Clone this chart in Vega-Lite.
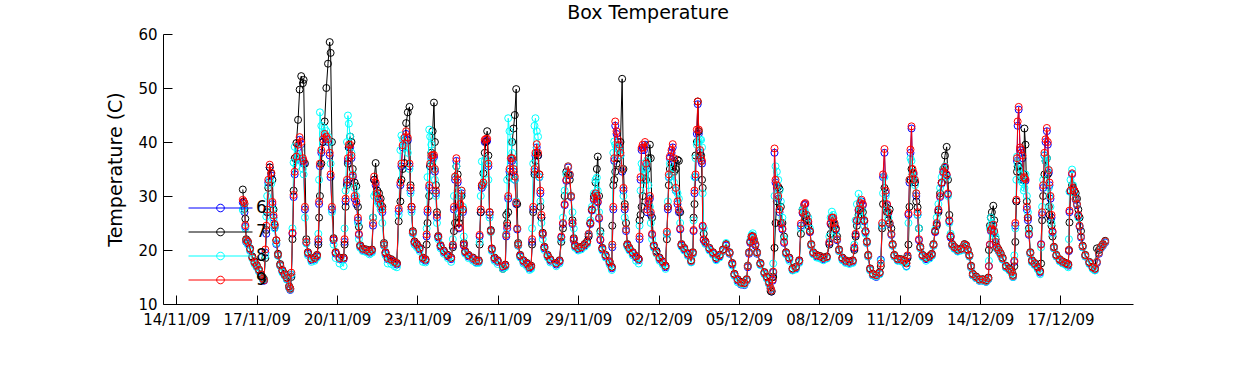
{
"$schema": "https://vega.github.io/schema/vega-lite/v6.json",
"width": 970, "height": 270,
"autosize": "none",
"padding": {"left": 163, "top": 34, "right": 117, "bottom": 61},
"background": "white",
"config": {"view": {"stroke": null}},
"title": {"text": "Box Temperature", "font": "DejaVu Sans", "fontSize": 19, "fontWeight": "normal", "color": "black", "anchor": "middle", "frame": "group", "baseline": "alphabetic", "offset": 8, "dy": 19},
"data": {"values": [
{"t":"2009-11-16T11:30","6":28.8,"7":31.2,"8":27.4,"9":29.3},
{"t":"2009-11-16T12:15","6":28.6,"7":29.0,"8":27.8,"9":29.0},
{"t":"2009-11-16T13:00","6":27.0,"7":27.6,"8":28.5,"9":28.6},
{"t":"2009-11-16T13:45","6":24.3,"7":25.8,"8":24.0,"9":24.6},
{"t":"2009-11-16T14:30","6":21.5,"7":22.0,"8":21.6,"9":21.8},
{"t":"2009-11-16T16:00","6":21.2,"7":21.6,"8":21.0,"9":21.5},
{"t":"2009-11-16T18:00","6":20.0,"7":20.3,"8":19.8,"9":20.2},
{"t":"2009-11-16T20:00","6":18.6,"7":18.8,"8":18.4,"9":18.6},
{"t":"2009-11-16T22:00","6":17.6,"7":17.9,"8":17.4,"9":17.7},
{"t":"2009-11-17T00:00","6":16.9,"7":17.2,"8":16.8,"9":17.1},
{"t":"2009-11-17T02:00","6":16.1,"7":16.4,"8":16.0,"9":16.3},
{"t":"2009-11-17T04:00","6":15.3,"7":15.5,"8":15.1,"9":15.4},
{"t":"2009-11-17T05:30","6":14.6,"7":14.9,"8":14.5,"9":14.7},
{"t":"2009-11-17T06:30","6":14.3,"7":14.6,"8":14.5,"9":14.4},
{"t":"2009-11-17T07:40","6":19.5,"7":18.5,"8":19.0,"9":20.1},
{"t":"2009-11-17T08:30","6":23.0,"7":23.7,"8":26.2,"9":24.5},
{"t":"2009-11-17T09:20","6":27.0,"7":27.0,"8":30.0,"9":27.5},
{"t":"2009-11-17T10:20","6":32.5,"7":31.5,"8":32.0,"9":33.0},
{"t":"2009-11-17T11:35","6":35.3,"7":35.3,"8":33.0,"9":35.8},
{"t":"2009-11-17T13:00","6":33.8,"7":34.2,"8":32.3,"9":34.3},
{"t":"2009-11-17T14:00","6":28.5,"7":33.0,"8":27.5,"9":28.9},
{"t":"2009-11-17T15:00","6":26.0,"7":27.5,"8":25.5,"9":26.4},
{"t":"2009-11-17T16:00","6":24.2,"7":24.6,"8":24.0,"9":24.8},
{"t":"2009-11-17T17:30","6":21.1,"7":21.8,"8":21.3,"9":21.8},
{"t":"2009-11-17T19:00","6":19.0,"7":19.3,"8":18.9,"9":19.1},
{"t":"2009-11-17T21:00","6":17.1,"7":17.4,"8":17.0,"9":17.2},
{"t":"2009-11-17T23:00","6":16.0,"7":16.3,"8":15.8,"9":16.2},
{"t":"2009-11-18T01:00","6":15.3,"7":15.6,"8":15.2,"9":15.4},
{"t":"2009-11-18T03:00","6":14.6,"7":14.9,"8":14.5,"9":14.8},
{"t":"2009-11-18T05:00","6":13.0,"7":13.3,"8":13.0,"9":13.2},
{"t":"2009-11-18T06:00","6":12.6,"7":12.9,"8":12.7,"9":12.8},
{"t":"2009-11-18T07:00","6":15.4,"7":15.0,"8":15.5,"9":15.8},
{"t":"2009-11-18T08:00","6":23.0,"7":22.0,"8":24.0,"9":23.2},
{"t":"2009-11-18T09:00","6":29.8,"7":31.0,"8":36.2,"9":30.2},
{"t":"2009-11-18T10:00","6":34.0,"7":37.0,"8":39.1,"9":34.5},
{"t":"2009-11-18T11:30","6":36.8,"7":39.8,"8":35.5,"9":37.3},
{"t":"2009-11-18T13:00","6":39.0,"7":44.1,"8":37.0,"9":39.5},
{"t":"2009-11-18T14:25","6":40.4,"7":49.7,"8":38.5,"9":40.9},
{"t":"2009-11-18T15:50","6":39.6,"7":52.2,"8":37.0,"9":40.0},
{"t":"2009-11-18T17:20","6":36.6,"7":50.9,"8":35.0,"9":37.0},
{"t":"2009-11-18T18:00","6":36.0,"7":51.5,"8":34.0,"9":36.5},
{"t":"2009-11-18T19:10","6":27.5,"7":36.0,"8":26.0,"9":28.0},
{"t":"2009-11-18T20:25","6":21.3,"7":22.0,"8":21.2,"9":21.5},
{"t":"2009-11-18T21:50","6":19.3,"7":19.6,"8":19.0,"9":19.5},
{"t":"2009-11-19T01:00","6":18.1,"7":18.4,"8":17.8,"9":18.3},
{"t":"2009-11-19T03:50","6":18.3,"7":18.6,"8":18.0,"9":18.5},
{"t":"2009-11-19T06:00","6":18.8,"7":19.1,"8":18.6,"9":19.0},
{"t":"2009-11-19T07:10","6":21.5,"7":21.0,"8":23.0,"9":22.0},
{"t":"2009-11-19T07:50","6":28.5,"7":26.0,"8":33.0,"9":29.0},
{"t":"2009-11-19T08:35","6":35.5,"7":30.0,"8":45.5,"9":36.0},
{"t":"2009-11-19T09:50","6":38.0,"7":36.0,"8":43.0,"9":38.5},
{"t":"2009-11-19T11:20","6":40.0,"7":40.0,"8":41.5,"9":40.5},
{"t":"2009-11-19T12:50","6":41.0,"7":43.8,"8":42.5,"9":41.5},
{"t":"2009-11-19T14:20","6":40.5,"7":50.0,"8":42.0,"9":41.0},
{"t":"2009-11-19T15:50","6":40.0,"7":54.5,"8":41.0,"9":40.5},
{"t":"2009-11-19T17:20","6":37.5,"7":58.5,"8":40.0,"9":38.0},
{"t":"2009-11-19T18:10","6":33.5,"7":56.5,"8":36.0,"9":34.0},
{"t":"2009-11-19T19:20","6":27.5,"7":40.0,"8":27.0,"9":28.0},
{"t":"2009-11-19T20:50","6":21.8,"7":22.2,"8":21.0,"9":22.0},
{"t":"2009-11-19T22:40","6":19.3,"7":19.6,"8":18.5,"9":19.5},
{"t":"2009-11-20T02:10","6":18.3,"7":18.6,"8":17.5,"9":18.5},
{"t":"2009-11-20T05:50","6":18.3,"7":18.6,"8":17.0,"9":18.5},
{"t":"2009-11-20T06:40","6":21.5,"7":21.0,"8":24.0,"9":22.0},
{"t":"2009-11-20T07:35","6":29.0,"7":28.0,"8":31.0,"9":29.5},
{"t":"2009-11-20T08:50","6":32.5,"7":32.0,"8":40.0,"9":33.0},
{"t":"2009-11-20T09:40","6":36.5,"7":36.0,"8":44.9,"9":37.0},
{"t":"2009-11-20T10:30","6":39.0,"7":39.0,"8":43.4,"9":39.5},
{"t":"2009-11-20T11:40","6":39.0,"7":41.0,"8":41.0,"9":39.5},
{"t":"2009-11-20T12:50","6":37.0,"7":40.0,"8":38.0,"9":37.5},
{"t":"2009-11-20T14:00","6":33.5,"7":35.0,"8":34.0,"9":33.8},
{"t":"2009-11-20T15:40","6":29.5,"7":32.5,"8":31.5,"9":30.0},
{"t":"2009-11-20T17:10","6":28.5,"7":31.8,"8":30.0,"9":29.0},
{"t":"2009-11-20T18:40","6":25.5,"7":28.0,"8":25.0,"9":26.0},
{"t":"2009-11-20T19:30","6":22.8,"7":24.3,"8":22.0,"9":23.0},
{"t":"2009-11-20T20:40","6":20.6,"7":20.9,"8":20.4,"9":20.8},
{"t":"2009-11-20T23:00","6":20.0,"7":20.3,"8":19.8,"9":20.2},
{"t":"2009-11-21T02:10","6":19.8,"7":20.1,"8":19.6,"9":20.0},
{"t":"2009-11-21T05:00","6":19.5,"7":19.8,"8":19.2,"9":19.7},
{"t":"2009-11-21T07:10","6":19.8,"7":20.1,"8":19.5,"9":20.0},
{"t":"2009-11-21T08:10","6":24.5,"7":26.0,"8":26.0,"9":25.0},
{"t":"2009-11-21T09:10","6":33.0,"7":33.0,"8":30.0,"9":33.6},
{"t":"2009-11-21T10:30","6":32.0,"7":36.1,"8":30.5,"9":32.5},
{"t":"2009-11-21T12:00","6":30.0,"7":31.0,"8":29.0,"9":30.5},
{"t":"2009-11-21T13:30","6":29.0,"7":30.5,"8":28.5,"9":29.5},
{"t":"2009-11-21T15:00","6":28.0,"7":29.5,"8":27.5,"9":28.5},
{"t":"2009-11-21T16:30","6":27.0,"7":28.0,"8":25.0,"9":27.5},
{"t":"2009-11-21T18:00","6":20.8,"7":21.3,"8":20.8,"9":21.0},
{"t":"2009-11-21T19:20","6":19.3,"7":19.6,"8":19.0,"9":19.5},
{"t":"2009-11-21T21:20","6":18.3,"7":18.6,"8":17.5,"9":18.5},
{"t":"2009-11-22T00:30","6":18.0,"7":18.3,"8":17.4,"9":18.2},
{"t":"2009-11-22T03:30","6":17.6,"7":17.9,"8":17.0,"9":17.8},
{"t":"2009-11-22T05:30","6":17.3,"7":17.6,"8":16.8,"9":17.5},
{"t":"2009-11-22T07:10","6":27.2,"7":25.3,"8":26.5,"9":27.7},
{"t":"2009-11-22T08:40","6":32.0,"7":29.0,"8":38.5,"9":32.5},
{"t":"2009-11-22T09:35","6":35.5,"7":33.0,"8":41.2,"9":36.0},
{"t":"2009-11-22T10:45","6":39.0,"7":35.0,"8":40.5,"9":39.4},
{"t":"2009-11-22T12:20","6":40.3,"7":36.1,"8":39.5,"9":40.8},
{"t":"2009-11-22T13:50","6":41.5,"7":43.5,"8":39.0,"9":42.0},
{"t":"2009-11-22T15:20","6":40.3,"7":45.5,"8":38.0,"9":40.8},
{"t":"2009-11-22T16:50","6":35.5,"7":46.5,"8":35.0,"9":36.0},
{"t":"2009-11-22T17:45","6":31.0,"7":32.0,"8":30.5,"9":31.5},
{"t":"2009-11-22T18:40","6":27.5,"7":28.0,"8":27.0,"9":28.0},
{"t":"2009-11-22T19:50","6":23.1,"7":23.5,"8":23.0,"9":23.3},
{"t":"2009-11-22T21:20","6":21.3,"7":21.6,"8":21.0,"9":21.5},
{"t":"2009-11-22T23:25","6":20.8,"7":21.1,"8":20.5,"9":21.0},
{"t":"2009-11-23T01:50","6":20.1,"7":20.4,"8":19.8,"9":20.3},
{"t":"2009-11-23T04:50","6":18.3,"7":18.6,"8":17.8,"9":18.5},
{"t":"2009-11-23T07:10","6":18.0,"7":18.3,"8":17.7,"9":18.2},
{"t":"2009-11-23T08:10","6":22.5,"7":21.0,"8":24.0,"9":22.9},
{"t":"2009-11-23T09:00","6":27.0,"7":25.0,"8":33.5,"9":27.5},
{"t":"2009-11-23T10:30","6":31.5,"7":30.0,"8":42.3,"9":32.0},
{"t":"2009-11-23T11:20","6":35.5,"7":35.5,"8":41.0,"9":36.0},
{"t":"2009-11-23T12:25","6":37.0,"7":38.0,"8":39.5,"9":37.5},
{"t":"2009-11-23T13:35","6":37.2,"7":42.0,"8":36.5,"9":37.6},
{"t":"2009-11-23T14:45","6":37.2,"7":47.3,"8":35.0,"9":37.6},
{"t":"2009-11-23T15:35","6":34.5,"7":40.0,"8":33.0,"9":35.0},
{"t":"2009-11-23T16:30","6":30.5,"7":32.0,"8":30.0,"9":31.0},
{"t":"2009-11-23T17:25","6":26.0,"7":27.0,"8":25.0,"9":26.5},
{"t":"2009-11-23T18:35","6":22.3,"7":22.6,"8":22.0,"9":22.5},
{"t":"2009-11-23T20:40","6":20.6,"7":20.9,"8":20.3,"9":20.8},
{"t":"2009-11-23T23:35","6":19.6,"7":19.9,"8":19.3,"9":19.8},
{"t":"2009-11-24T03:10","6":18.8,"7":19.1,"8":18.5,"9":19.0},
{"t":"2009-11-24T06:10","6":18.3,"7":18.6,"8":17.8,"9":18.5},
{"t":"2009-11-24T07:40","6":20.8,"7":20.5,"8":22.0,"9":21.0},
{"t":"2009-11-24T08:40","6":27.5,"7":23.5,"8":30.0,"9":28.0},
{"t":"2009-11-24T09:40","6":33.0,"7":25.0,"8":33.5,"9":33.6},
{"t":"2009-11-24T10:50","6":36.5,"7":35.5,"8":35.5,"9":37.0},
{"t":"2009-11-24T12:00","6":32.5,"7":34.0,"8":31.0,"9":33.0},
{"t":"2009-11-24T13:10","6":24.0,"7":25.0,"8":27.0,"9":24.2},
{"t":"2009-11-24T14:20","6":28.0,"7":26.0,"8":30.0,"9":28.5},
{"t":"2009-11-24T15:30","6":30.5,"7":30.0,"8":31.0,"9":31.0},
{"t":"2009-11-24T16:40","6":27.0,"7":27.5,"8":28.0,"9":27.5},
{"t":"2009-11-24T17:30","6":20.8,"7":21.3,"8":22.5,"9":21.0},
{"t":"2009-11-24T18:45","6":19.5,"7":19.8,"8":19.3,"9":19.7},
{"t":"2009-11-24T21:40","6":18.8,"7":19.1,"8":18.5,"9":19.0},
{"t":"2009-11-25T01:40","6":18.3,"7":18.6,"8":18.0,"9":18.5},
{"t":"2009-11-25T04:35","6":17.7,"7":18.1,"8":17.6,"9":18.0},
{"t":"2009-11-25T06:50","6":17.8,"7":18.1,"8":17.6,"9":18.0},
{"t":"2009-11-25T07:40","6":22.5,"7":21.0,"8":21.5,"9":22.8},
{"t":"2009-11-25T08:40","6":27.0,"7":27.0,"8":30.0,"9":27.5},
{"t":"2009-11-25T09:40","6":31.5,"7":32.0,"8":36.4,"9":32.0},
{"t":"2009-11-25T11:00","6":32.0,"7":34.2,"8":32.0,"9":32.5},
{"t":"2009-11-25T12:15","6":40.0,"7":38.0,"8":36.5,"9":40.4},
{"t":"2009-11-25T13:20","6":40.2,"7":40.0,"8":37.0,"9":40.6},
{"t":"2009-11-25T14:25","6":40.2,"7":42.0,"8":36.0,"9":40.6},
{"t":"2009-11-25T15:30","6":35.5,"7":37.5,"8":33.0,"9":36.0},
{"t":"2009-11-25T16:35","6":26.5,"7":27.0,"8":26.0,"9":27.0},
{"t":"2009-11-25T17:40","6":23.5,"7":23.7,"8":23.3,"9":23.5},
{"t":"2009-11-25T18:35","6":20.0,"7":20.3,"8":19.8,"9":20.2},
{"t":"2009-11-25T21:00","6":18.3,"7":18.6,"8":18.0,"9":18.5},
{"t":"2009-11-25T23:50","6":17.8,"7":18.1,"8":17.4,"9":18.0},
{"t":"2009-11-26T04:30","6":16.8,"7":16.5,"8":16.5,"9":17.0},
{"t":"2009-11-26T06:40","6":17.0,"7":17.3,"8":16.8,"9":17.2},
{"t":"2009-11-26T07:30","6":22.5,"7":26.5,"8":23.0,"9":22.8},
{"t":"2009-11-26T08:20","6":24.0,"7":25.0,"8":33.0,"9":24.5},
{"t":"2009-11-26T09:15","6":29.5,"7":27.0,"8":44.4,"9":30.0},
{"t":"2009-11-26T10:25","6":34.5,"7":33.5,"8":42.0,"9":35.0},
{"t":"2009-11-26T11:40","6":36.5,"7":37.0,"8":40.0,"9":37.0},
{"t":"2009-11-26T12:50","6":36.5,"7":40.0,"8":38.0,"9":37.0},
{"t":"2009-11-26T14:00","6":34.5,"7":42.5,"8":36.0,"9":35.0},
{"t":"2009-11-26T15:10","6":33.0,"7":45.0,"8":33.0,"9":33.6},
{"t":"2009-11-26T16:25","6":28.5,"7":49.8,"8":29.0,"9":28.8},
{"t":"2009-11-26T17:20","6":23.8,"7":28.5,"8":24.0,"9":24.0},
{"t":"2009-11-26T18:10","6":20.8,"7":21.3,"8":20.8,"9":21.0},
{"t":"2009-11-26T20:00","6":18.8,"7":19.1,"8":18.6,"9":19.0},
{"t":"2009-11-26T22:55","6":17.8,"7":18.1,"8":17.5,"9":18.0},
{"t":"2009-11-27T02:00","6":17.3,"7":17.6,"8":17.0,"9":17.5},
{"t":"2009-11-27T04:20","6":16.6,"7":16.9,"8":16.3,"9":16.8},
{"t":"2009-11-27T05:50","6":16.8,"7":17.1,"8":16.5,"9":17.0},
{"t":"2009-11-27T06:40","6":21.5,"7":21.0,"8":24.0,"9":22.0},
{"t":"2009-11-27T07:40","6":27.5,"7":27.0,"8":36.0,"9":28.0},
{"t":"2009-11-27T08:50","6":34.5,"7":34.0,"8":43.0,"9":35.0},
{"t":"2009-11-27T09:40","6":37.5,"7":36.5,"8":44.4,"9":38.0},
{"t":"2009-11-27T10:50","6":39.0,"7":38.0,"8":42.0,"9":39.6},
{"t":"2009-11-27T12:00","6":37.5,"7":37.5,"8":41.0,"9":38.0},
{"t":"2009-11-27T13:10","6":33.5,"7":34.0,"8":33.5,"9":34.0},
{"t":"2009-11-27T14:05","6":30.5,"7":28.0,"8":29.0,"9":31.0},
{"t":"2009-11-27T15:00","6":26.0,"7":26.0,"8":25.0,"9":26.5},
{"t":"2009-11-27T16:10","6":22.8,"7":23.2,"8":22.0,"9":23.0},
{"t":"2009-11-27T17:40","6":20.3,"7":20.6,"8":20.0,"9":20.5},
{"t":"2009-11-27T20:35","6":18.8,"7":19.1,"8":18.6,"9":19.0},
{"t":"2009-11-27T23:00","6":18.0,"7":18.3,"8":17.7,"9":18.2},
{"t":"2009-11-28T04:20","6":17.3,"7":17.6,"8":17.0,"9":17.5},
{"t":"2009-11-28T07:15","6":17.8,"7":18.1,"8":17.5,"9":18.0},
{"t":"2009-11-28T08:50","6":22.3,"7":21.5,"8":22.0,"9":22.5},
{"t":"2009-11-28T10:20","6":24.8,"7":24.0,"8":26.0,"9":25.0},
{"t":"2009-11-28T11:50","6":28.3,"7":30.0,"8":31.0,"9":28.5},
{"t":"2009-11-28T13:20","6":32.8,"7":34.5,"8":34.0,"9":33.0},
{"t":"2009-11-28T14:55","6":35.3,"7":34.0,"8":35.5,"9":35.5},
{"t":"2009-11-28T16:25","6":33.8,"7":33.0,"8":34.0,"9":34.0},
{"t":"2009-11-28T17:35","6":29.8,"7":30.0,"8":30.0,"9":30.0},
{"t":"2009-11-28T18:50","6":24.8,"7":25.5,"8":27.0,"9":25.0},
{"t":"2009-11-28T20:00","6":21.8,"7":22.2,"8":24.0,"9":22.0},
{"t":"2009-11-28T21:10","6":20.6,"7":20.9,"8":20.4,"9":20.8},
{"t":"2009-11-28T23:55","6":20.1,"7":20.4,"8":19.9,"9":20.3},
{"t":"2009-11-29T02:40","6":20.3,"7":20.6,"8":20.1,"9":20.5},
{"t":"2009-11-29T05:40","6":20.8,"7":21.1,"8":20.6,"9":21.0},
{"t":"2009-11-29T08:00","6":21.3,"7":21.6,"8":21.1,"9":21.5},
{"t":"2009-11-29T09:20","6":22.8,"7":22.5,"8":23.0,"9":23.0},
{"t":"2009-11-29T10:50","6":24.8,"7":25.0,"8":25.5,"9":25.0},
{"t":"2009-11-29T12:15","6":27.3,"7":27.5,"8":28.0,"9":27.5},
{"t":"2009-11-29T14:00","6":29.3,"7":30.0,"8":30.5,"9":29.5},
{"t":"2009-11-29T15:30","6":30.3,"7":32.5,"8":33.0,"9":30.5},
{"t":"2009-11-29T16:40","6":29.8,"7":35.0,"8":33.4,"9":30.0},
{"t":"2009-11-29T17:30","6":28.8,"7":37.3,"8":31.0,"9":29.0},
{"t":"2009-11-29T18:40","6":25.8,"7":30.0,"8":27.0,"9":26.0},
{"t":"2009-11-29T19:50","6":21.8,"7":23.5,"8":23.0,"9":22.0},
{"t":"2009-11-29T21:35","6":20.1,"7":20.4,"8":19.9,"9":20.3},
{"t":"2009-11-30T00:30","6":18.8,"7":19.1,"8":18.6,"9":19.0},
{"t":"2009-11-30T04:05","6":17.6,"7":17.9,"8":17.3,"9":17.8},
{"t":"2009-11-30T06:05","6":16.6,"7":16.9,"8":16.3,"9":16.8},
{"t":"2009-11-30T06:30","6":20.5,"7":24.5,"8":21.0,"9":21.0},
{"t":"2009-11-30T07:25","6":27.5,"7":32.0,"8":38.0,"9":28.0},
{"t":"2009-11-30T08:15","6":36.5,"7":33.0,"8":40.1,"9":37.0},
{"t":"2009-11-30T09:10","6":43.0,"7":34.5,"8":39.5,"9":43.8},
{"t":"2009-11-30T10:20","6":41.5,"7":36.0,"8":39.0,"9":42.0},
{"t":"2009-11-30T11:30","6":40.0,"7":37.0,"8":39.0,"9":40.5},
{"t":"2009-11-30T12:40","6":39.0,"7":38.5,"8":38.5,"9":39.5},
{"t":"2009-11-30T13:50","6":37.5,"7":40.0,"8":37.5,"9":38.0},
{"t":"2009-11-30T15:20","6":34.5,"7":51.7,"8":35.0,"9":35.0},
{"t":"2009-11-30T16:30","6":31.0,"7":35.0,"8":30.0,"9":31.5},
{"t":"2009-11-30T17:40","6":27.5,"7":28.5,"8":26.0,"9":28.0},
{"t":"2009-11-30T18:50","6":23.5,"7":25.0,"8":23.8,"9":23.8},
{"t":"2009-11-30T20:00","6":20.8,"7":21.1,"8":20.6,"9":21.0},
{"t":"2009-11-30T21:50","6":20.1,"7":20.4,"8":19.9,"9":20.3},
{"t":"2009-12-01T00:50","6":19.3,"7":19.6,"8":19.0,"9":19.5},
{"t":"2009-12-01T03:50","6":18.6,"7":18.9,"8":18.0,"9":18.8},
{"t":"2009-12-01T06:10","6":18.1,"7":18.4,"8":17.5,"9":18.3},
{"t":"2009-12-01T06:55","6":22.0,"7":25.5,"8":24.5,"9":22.5},
{"t":"2009-12-01T07:50","6":33.0,"7":26.5,"8":31.0,"9":33.5},
{"t":"2009-12-01T08:45","6":38.5,"7":28.0,"8":36.0,"9":38.9},
{"t":"2009-12-01T09:45","6":39.0,"7":30.0,"8":35.0,"9":39.5},
{"t":"2009-12-01T10:55","6":38.5,"7":33.0,"8":33.0,"9":39.0},
{"t":"2009-12-01T11:50","6":39.5,"7":34.0,"8":34.0,"9":40.0},
{"t":"2009-12-01T12:45","6":35.5,"7":33.0,"8":35.0,"9":36.0},
{"t":"2009-12-01T13:40","6":27.0,"7":35.0,"8":36.5,"9":27.5},
{"t":"2009-12-01T14:55","6":28.5,"7":37.0,"8":32.0,"9":29.0},
{"t":"2009-12-01T16:10","6":29.5,"7":39.5,"8":28.0,"9":30.0},
{"t":"2009-12-01T17:00","6":26.5,"7":37.0,"8":25.0,"9":27.0},
{"t":"2009-12-01T18:10","6":22.8,"7":26.0,"8":22.0,"9":23.0},
{"t":"2009-12-01T19:40","6":20.6,"7":20.9,"8":20.4,"9":20.8},
{"t":"2009-12-01T22:05","6":19.8,"7":19.8,"8":19.3,"9":19.5},
{"t":"2009-12-02T00:50","6":18.3,"7":18.6,"8":18.0,"9":18.5},
{"t":"2009-12-02T03:45","6":17.6,"7":17.9,"8":17.3,"9":17.8},
{"t":"2009-12-02T06:10","6":16.8,"7":17.1,"8":16.5,"9":17.0},
{"t":"2009-12-02T07:25","6":23.0,"7":22.0,"8":23.0,"9":23.4},
{"t":"2009-12-02T08:20","6":27.5,"7":28.0,"8":29.0,"9":28.0},
{"t":"2009-12-02T09:10","6":33.5,"7":32.0,"8":33.5,"9":34.0},
{"t":"2009-12-02T10:05","6":37.0,"7":35.0,"8":36.0,"9":37.3},
{"t":"2009-12-02T11:35","6":38.0,"7":36.0,"8":34.0,"9":38.5},
{"t":"2009-12-02T12:40","6":39.0,"7":35.0,"8":34.0,"9":39.6},
{"t":"2009-12-02T13:55","6":36.5,"7":34.5,"8":32.5,"9":37.0},
{"t":"2009-12-02T15:25","6":31.0,"7":35.0,"8":31.0,"9":31.5},
{"t":"2009-12-02T16:55","6":28.5,"7":36.7,"8":30.5,"9":29.0},
{"t":"2009-12-02T18:10","6":27.0,"7":36.5,"8":29.5,"9":27.5},
{"t":"2009-12-02T19:20","6":23.8,"7":27.0,"8":25.0,"9":24.0},
{"t":"2009-12-02T20:30","6":20.8,"7":21.1,"8":20.6,"9":21.0},
{"t":"2009-12-02T22:55","6":20.1,"7":20.4,"8":19.9,"9":20.3},
{"t":"2009-12-03T02:10","6":19.1,"7":19.4,"8":18.9,"9":19.3},
{"t":"2009-12-03T05:10","6":17.8,"7":18.1,"8":17.7,"9":18.0},
{"t":"2009-12-03T06:40","6":19.3,"7":19.6,"8":19.2,"9":19.5},
{"t":"2009-12-03T07:20","6":23.5,"7":26.0,"8":25.5,"9":23.7},
{"t":"2009-12-03T08:10","6":30.5,"7":28.5,"8":33.5,"9":31.0},
{"t":"2009-12-03T09:05","6":33.5,"7":37.5,"8":37.0,"9":34.0},
{"t":"2009-12-03T10:15","6":41.5,"7":40.0,"8":39.5,"9":42.3},
{"t":"2009-12-03T11:05","6":47.0,"7":47.5,"8":40.0,"9":47.5},
{"t":"2009-12-03T12:00","6":41.5,"7":42.0,"8":40.2,"9":42.3},
{"t":"2009-12-03T13:10","6":38.0,"7":37.5,"8":40.4,"9":38.5},
{"t":"2009-12-03T14:05","6":36.5,"7":37.5,"8":40.4,"9":37.0},
{"t":"2009-12-03T14:55","6":36.0,"7":33.0,"8":39.0,"9":36.5},
{"t":"2009-12-03T15:30","6":24.3,"7":31.5,"8":30.5,"9":24.5},
{"t":"2009-12-03T16:25","6":21.8,"7":23.0,"8":24.0,"9":22.0},
{"t":"2009-12-03T17:55","6":21.3,"7":21.6,"8":21.1,"9":21.5},
{"t":"2009-12-03T21:30","6":20.1,"7":20.4,"8":19.9,"9":20.3},
{"t":"2009-12-04T00:40","6":19.3,"7":19.6,"8":19.1,"9":19.5},
{"t":"2009-12-04T03:35","6":18.3,"7":18.6,"8":18.1,"9":18.5},
{"t":"2009-12-04T06:40","6":18.8,"7":19.1,"8":18.6,"9":19.0},
{"t":"2009-12-04T09:40","6":19.8,"7":20.1,"8":19.8,"9":20.0},
{"t":"2009-12-04T12:30","6":20.8,"7":21.1,"8":21.3,"9":21.0},
{"t":"2009-12-04T15:35","6":19.3,"7":19.6,"8":19.4,"9":19.5},
{"t":"2009-12-04T18:00","6":17.3,"7":17.6,"8":17.1,"9":17.5},
{"t":"2009-12-04T19:55","6":15.3,"7":15.6,"8":15.2,"9":15.5},
{"t":"2009-12-04T22:50","6":14.3,"7":14.6,"8":14.0,"9":14.5},
{"t":"2009-12-05T01:50","6":13.6,"7":14.1,"8":13.7,"9":13.9},
{"t":"2009-12-05T04:50","6":13.5,"7":13.9,"8":13.6,"9":13.8},
{"t":"2009-12-05T06:55","6":14.3,"7":14.6,"8":14.3,"9":14.5},
{"t":"2009-12-05T07:55","6":16.8,"7":17.1,"8":17.0,"9":17.0},
{"t":"2009-12-05T09:00","6":19.3,"7":19.6,"8":19.5,"9":19.5},
{"t":"2009-12-05T10:10","6":21.3,"7":21.6,"8":21.8,"9":21.5},
{"t":"2009-12-05T11:20","6":22.3,"7":22.5,"8":22.8,"9":22.5},
{"t":"2009-12-05T12:20","6":22.3,"7":22.6,"8":23.1,"9":22.5},
{"t":"2009-12-05T13:30","6":21.6,"7":21.9,"8":21.9,"9":21.8},
{"t":"2009-12-05T14:40","6":20.8,"7":21.1,"8":21.0,"9":21.0},
{"t":"2009-12-05T16:10","6":19.3,"7":19.6,"8":19.4,"9":19.5},
{"t":"2009-12-05T19:10","6":17.3,"7":17.6,"8":17.2,"9":17.5},
{"t":"2009-12-05T22:50","6":15.6,"7":15.9,"8":15.5,"9":15.8},
{"t":"2009-12-06T01:00","6":14.8,"7":15.1,"8":14.7,"9":15.0},
{"t":"2009-12-06T02:50","6":13.8,"7":14.1,"8":13.7,"9":14.0},
{"t":"2009-12-06T04:20","6":12.8,"7":12.4,"8":12.9,"9":13.0},
{"t":"2009-12-06T05:10","6":12.3,"7":12.3,"8":12.5,"9":12.5},
{"t":"2009-12-06T06:10","6":14.3,"7":15.0,"8":16.0,"9":14.5},
{"t":"2009-12-06T06:40","6":15.8,"7":15.0,"8":17.5,"9":16.0},
{"t":"2009-12-06T07:50","6":38.0,"7":20.4,"8":30.0,"9":38.8},
{"t":"2009-12-06T08:45","6":32.5,"7":25.0,"8":35.5,"9":33.0},
{"t":"2009-12-06T09:55","6":31.5,"7":29.0,"8":34.5,"9":32.0},
{"t":"2009-12-06T11:10","6":29.5,"7":31.7,"8":33.0,"9":30.0},
{"t":"2009-12-06T12:20","6":27.0,"7":31.3,"8":31.0,"9":27.5},
{"t":"2009-12-06T13:30","6":24.8,"7":28.0,"8":29.0,"9":25.0},
{"t":"2009-12-06T14:55","6":23.8,"7":25.0,"8":26.0,"9":24.0},
{"t":"2009-12-06T16:25","6":21.3,"7":22.5,"8":22.0,"9":21.5},
{"t":"2009-12-06T18:10","6":19.3,"7":19.6,"8":19.2,"9":19.5},
{"t":"2009-12-06T21:05","6":18.3,"7":18.6,"8":18.0,"9":18.5},
{"t":"2009-12-07T00:00","6":16.3,"7":16.6,"8":16.2,"9":16.5},
{"t":"2009-12-07T03:00","6":16.6,"7":16.9,"8":16.4,"9":16.8},
{"t":"2009-12-07T06:00","6":17.8,"7":18.1,"8":17.6,"9":18.0},
{"t":"2009-12-07T07:30","6":24.5,"7":23.0,"8":24.0,"9":24.9},
{"t":"2009-12-07T09:00","6":26.8,"7":27.5,"8":27.5,"9":27.0},
{"t":"2009-12-07T10:30","6":28.3,"7":26.5,"8":27.5,"9":28.5},
{"t":"2009-12-07T11:25","6":28.5,"7":26.0,"8":27.0,"9":28.7},
{"t":"2009-12-07T12:35","6":26.3,"7":25.5,"8":26.5,"9":26.5},
{"t":"2009-12-07T14:05","6":25.0,"7":24.5,"8":26.0,"9":25.3},
{"t":"2009-12-07T15:35","6":23.3,"7":23.5,"8":24.0,"9":23.5},
{"t":"2009-12-07T16:45","6":20.8,"7":21.1,"8":20.8,"9":21.0},
{"t":"2009-12-07T18:35","6":19.3,"7":19.6,"8":19.2,"9":19.5},
{"t":"2009-12-07T21:35","6":18.8,"7":19.1,"8":18.6,"9":19.0},
{"t":"2009-12-08T00:40","6":18.6,"7":18.9,"8":18.4,"9":18.8},
{"t":"2009-12-08T03:35","6":18.3,"7":18.6,"8":18.1,"9":18.5},
{"t":"2009-12-08T06:40","6":18.5,"7":18.8,"8":18.4,"9":18.7},
{"t":"2009-12-08T09:00","6":21.3,"7":21.0,"8":22.5,"9":21.5},
{"t":"2009-12-08T10:05","6":24.8,"7":23.0,"8":26.0,"9":25.0},
{"t":"2009-12-08T11:15","6":25.8,"7":24.5,"8":27.1,"9":26.0},
{"t":"2009-12-08T12:25","6":25.8,"7":25.5,"8":26.5,"9":26.0},
{"t":"2009-12-08T13:35","6":24.8,"7":24.5,"8":25.0,"9":25.0},
{"t":"2009-12-08T14:45","6":23.8,"7":24.0,"8":23.5,"9":24.0},
{"t":"2009-12-08T15:55","6":21.8,"7":22.5,"8":22.0,"9":22.0},
{"t":"2009-12-08T17:40","6":19.8,"7":20.1,"8":19.8,"9":20.0},
{"t":"2009-12-08T20:40","6":18.3,"7":18.6,"8":18.1,"9":18.5},
{"t":"2009-12-08T23:35","6":17.8,"7":18.1,"8":17.6,"9":18.0},
{"t":"2009-12-09T02:55","6":17.6,"7":17.9,"8":17.4,"9":17.8},
{"t":"2009-12-09T05:55","6":17.8,"7":18.1,"8":17.6,"9":18.0},
{"t":"2009-12-09T07:20","6":20.3,"7":20.0,"8":21.0,"9":20.5},
{"t":"2009-12-09T08:30","6":22.8,"7":22.5,"8":25.5,"9":23.0},
{"t":"2009-12-09T09:40","6":25.3,"7":24.5,"8":28.5,"9":25.5},
{"t":"2009-12-09T11:10","6":27.3,"7":26.5,"8":30.4,"9":27.5},
{"t":"2009-12-09T12:40","6":28.5,"7":27.5,"8":29.0,"9":28.7},
{"t":"2009-12-09T13:50","6":29.0,"7":27.5,"8":27.5,"9":29.3},
{"t":"2009-12-09T15:00","6":28.3,"7":27.0,"8":26.0,"9":28.5},
{"t":"2009-12-09T16:10","6":25.3,"7":25.5,"8":24.5,"9":25.5},
{"t":"2009-12-09T17:20","6":23.3,"7":23.5,"8":23.0,"9":23.5},
{"t":"2009-12-09T18:35","6":21.3,"7":21.6,"8":21.3,"9":21.5},
{"t":"2009-12-09T19:45","6":18.8,"7":19.1,"8":18.8,"9":19.0},
{"t":"2009-12-09T21:30","6":16.3,"7":16.6,"8":16.2,"9":16.5},
{"t":"2009-12-10T00:00","6":15.3,"7":15.6,"8":15.3,"9":15.5},
{"t":"2009-12-10T03:00","6":15.0,"7":15.4,"8":15.1,"9":15.3},
{"t":"2009-12-10T06:00","6":15.6,"7":15.9,"8":15.5,"9":15.8},
{"t":"2009-12-10T07:05","6":18.2,"7":17.0,"8":18.0,"9":17.5},
{"t":"2009-12-10T08:15","6":24.5,"7":24.0,"8":24.5,"9":25.0},
{"t":"2009-12-10T09:05","6":33.5,"7":28.5,"8":30.5,"9":34.0},
{"t":"2009-12-10T10:20","6":38.0,"7":31.5,"8":33.5,"9":38.7},
{"t":"2009-12-10T11:30","6":30.5,"7":28.0,"8":30.0,"9":31.0},
{"t":"2009-12-10T12:40","6":28.3,"7":27.0,"8":27.5,"9":28.5},
{"t":"2009-12-10T13:50","6":26.8,"7":25.5,"8":26.0,"9":27.0},
{"t":"2009-12-10T15:00","6":24.8,"7":27.5,"8":25.0,"9":25.0},
{"t":"2009-12-10T16:30","6":22.8,"7":24.0,"8":23.0,"9":23.0},
{"t":"2009-12-10T17:40","6":20.8,"7":21.1,"8":20.8,"9":21.0},
{"t":"2009-12-10T19:10","6":18.8,"7":19.1,"8":18.8,"9":19.0},
{"t":"2009-12-10T22:10","6":18.1,"7":18.4,"8":18.0,"9":18.3},
{"t":"2009-12-11T01:10","6":18.0,"7":18.3,"8":17.9,"9":18.2},
{"t":"2009-12-11T04:10","6":17.8,"7":18.1,"8":17.6,"9":18.0},
{"t":"2009-12-11T06:00","6":17.0,"7":17.6,"8":16.9,"9":17.5},
{"t":"2009-12-11T07:00","6":18.8,"7":18.5,"8":19.0,"9":19.0},
{"t":"2009-12-11T07:50","6":26.5,"7":21.0,"8":25.0,"9":26.8},
{"t":"2009-12-11T08:45","6":32.5,"7":28.0,"8":33.0,"9":33.0},
{"t":"2009-12-11T09:40","6":38.0,"7":33.0,"8":37.0,"9":38.6},
{"t":"2009-12-11T10:35","6":42.5,"7":35.0,"8":36.5,"9":42.9},
{"t":"2009-12-11T11:30","6":34.5,"7":34.0,"8":34.5,"9":35.0},
{"t":"2009-12-11T12:25","6":34.0,"7":33.0,"8":33.5,"9":34.3},
{"t":"2009-12-11T13:40","6":32.5,"7":32.5,"8":32.0,"9":33.0},
{"t":"2009-12-11T14:50","6":30.0,"7":29.0,"8":30.5,"9":30.5},
{"t":"2009-12-11T16:00","6":26.5,"7":27.9,"8":26.5,"9":27.0},
{"t":"2009-12-11T17:15","6":21.8,"7":24.0,"8":24.0,"9":22.0},
{"t":"2009-12-11T18:25","6":20.3,"7":20.6,"8":20.3,"9":20.5},
{"t":"2009-12-11T20:30","6":18.8,"7":19.1,"8":18.7,"9":19.0},
{"t":"2009-12-11T23:35","6":18.3,"7":18.6,"8":18.0,"9":18.5},
{"t":"2009-12-12T02:40","6":18.6,"7":18.9,"8":18.4,"9":18.8},
{"t":"2009-12-12T04:45","6":19.0,"7":19.3,"8":18.9,"9":19.2},
{"t":"2009-12-12T06:15","6":20.8,"7":21.1,"8":20.8,"9":21.0},
{"t":"2009-12-12T07:45","6":23.3,"7":23.5,"8":23.8,"9":23.5},
{"t":"2009-12-12T09:10","6":24.8,"7":24.5,"8":26.0,"9":25.0},
{"t":"2009-12-12T10:40","6":27.3,"7":27.0,"8":28.5,"9":27.5},
{"t":"2009-12-12T12:10","6":29.8,"7":30.5,"8":31.5,"9":30.0},
{"t":"2009-12-12T13:35","6":32.3,"7":32.5,"8":33.5,"9":32.5},
{"t":"2009-12-12T15:05","6":34.3,"7":35.0,"8":35.0,"9":34.5},
{"t":"2009-12-12T16:35","6":35.2,"7":37.5,"8":35.5,"9":35.4},
{"t":"2009-12-12T18:05","6":33.8,"7":39.1,"8":33.5,"9":34.0},
{"t":"2009-12-12T19:15","6":30.3,"7":33.0,"8":30.0,"9":30.5},
{"t":"2009-12-12T20:25","6":25.3,"7":26.5,"8":25.0,"9":25.5},
{"t":"2009-12-12T21:35","6":22.3,"7":22.6,"8":23.0,"9":22.5},
{"t":"2009-12-12T23:05","6":20.8,"7":21.1,"8":20.8,"9":21.0},
{"t":"2009-12-13T01:00","6":20.3,"7":20.6,"8":20.2,"9":20.5},
{"t":"2009-12-13T04:00","6":19.8,"7":20.1,"8":19.7,"9":20.0},
{"t":"2009-12-13T07:00","6":20.0,"7":20.3,"8":19.9,"9":20.2},
{"t":"2009-12-13T10:00","6":20.8,"7":21.1,"8":20.8,"9":21.0},
{"t":"2009-12-13T11:30","6":20.6,"7":20.9,"8":20.6,"9":20.8},
{"t":"2009-12-13T12:55","6":19.8,"7":20.1,"8":19.8,"9":20.0},
{"t":"2009-12-13T14:25","6":18.8,"7":19.1,"8":18.8,"9":19.0},
{"t":"2009-12-13T15:55","6":16.8,"7":17.1,"8":16.8,"9":17.0},
{"t":"2009-12-13T17:30","6":15.3,"7":15.6,"8":15.3,"9":15.5},
{"t":"2009-12-13T20:25","6":14.8,"7":15.1,"8":14.8,"9":15.0},
{"t":"2009-12-13T23:25","6":14.3,"7":14.6,"8":14.3,"9":14.5},
{"t":"2009-12-14T02:25","6":14.3,"7":14.6,"8":14.3,"9":14.5},
{"t":"2009-12-14T05:20","6":14.1,"7":14.4,"8":14.1,"9":14.3},
{"t":"2009-12-14T07:25","6":14.6,"7":14.9,"8":14.6,"9":14.8},
{"t":"2009-12-14T07:55","6":17.0,"7":20.0,"8":18.0,"9":17.0},
{"t":"2009-12-14T08:50","6":21.0,"7":24.5,"8":24.0,"9":21.0},
{"t":"2009-12-14T09:40","6":23.5,"7":26.0,"8":26.0,"9":23.7},
{"t":"2009-12-14T10:35","6":23.8,"7":27.0,"8":25.0,"9":24.0},
{"t":"2009-12-14T11:50","6":24.5,"7":28.2,"8":24.0,"9":24.7},
{"t":"2009-12-14T12:40","6":23.3,"7":25.5,"8":23.0,"9":23.5},
{"t":"2009-12-14T13:55","6":21.3,"7":22.0,"8":22.5,"9":21.5},
{"t":"2009-12-14T15:05","6":20.3,"7":20.6,"8":20.3,"9":20.5},
{"t":"2009-12-14T16:35","6":19.8,"7":20.1,"8":19.8,"9":20.0},
{"t":"2009-12-14T18:25","6":19.1,"7":19.4,"8":19.1,"9":19.3},
{"t":"2009-12-14T20:10","6":18.3,"7":18.6,"8":18.2,"9":18.5},
{"t":"2009-12-14T23:10","6":16.8,"7":17.1,"8":16.7,"9":17.0},
{"t":"2009-12-15T02:10","6":16.3,"7":16.6,"8":16.2,"9":16.5},
{"t":"2009-12-15T04:15","6":15.8,"7":16.1,"8":15.7,"9":16.0},
{"t":"2009-12-15T05:30","6":15.0,"7":15.4,"8":15.0,"9":15.2},
{"t":"2009-12-15T06:40","6":17.8,"7":17.0,"8":19.0,"9":18.0},
{"t":"2009-12-15T07:35","6":24.5,"7":21.5,"8":24.0,"9":25.0},
{"t":"2009-12-15T08:30","6":29.0,"7":29.0,"8":33.0,"9":29.3},
{"t":"2009-12-15T09:05","6":36.5,"7":34.5,"8":37.3,"9":37.0},
{"t":"2009-12-15T09:40","6":43.0,"7":35.5,"8":36.0,"9":43.8},
{"t":"2009-12-15T10:35","6":46.0,"7":35.5,"8":35.0,"9":46.5},
{"t":"2009-12-15T11:50","6":38.5,"7":34.5,"8":34.0,"9":39.0},
{"t":"2009-12-15T12:45","6":38.0,"7":33.5,"8":33.0,"9":38.6},
{"t":"2009-12-15T13:55","6":37.0,"7":33.0,"8":32.5,"9":37.5},
{"t":"2009-12-15T15:10","6":33.0,"7":34.0,"8":31.0,"9":33.5},
{"t":"2009-12-15T15:45","6":33.0,"7":42.5,"8":31.5,"9":33.3},
{"t":"2009-12-15T16:40","6":32.8,"7":39.5,"8":34.0,"9":33.1},
{"t":"2009-12-15T17:55","6":27.5,"7":29.0,"8":30.0,"9":28.0},
{"t":"2009-12-15T18:50","6":25.5,"7":26.0,"8":27.0,"9":26.0},
{"t":"2009-12-15T19:45","6":22.8,"7":24.0,"8":23.5,"9":23.0},
{"t":"2009-12-15T21:00","6":19.3,"7":19.6,"8":19.3,"9":19.5},
{"t":"2009-12-15T22:30","6":17.8,"7":18.1,"8":17.7,"9":18.0},
{"t":"2009-12-16T00:50","6":17.3,"7":17.6,"8":17.2,"9":17.5},
{"t":"2009-12-16T03:40","6":16.6,"7":16.9,"8":16.4,"9":16.8},
{"t":"2009-12-16T05:45","6":15.8,"7":16.1,"8":15.5,"9":16.0},
{"t":"2009-12-16T06:40","6":21.1,"7":17.5,"8":20.5,"9":21.0},
{"t":"2009-12-16T07:35","6":26.5,"7":25.5,"8":28.0,"9":27.0},
{"t":"2009-12-16T08:30","6":31.5,"7":30.0,"8":33.0,"9":32.0},
{"t":"2009-12-16T09:40","6":37.5,"7":34.0,"8":37.6,"9":38.0},
{"t":"2009-12-16T10:40","6":40.0,"7":36.5,"8":36.5,"9":40.5},
{"t":"2009-12-16T11:50","6":42.0,"7":37.0,"8":37.0,"9":42.6},
{"t":"2009-12-16T12:40","6":39.5,"7":34.0,"8":35.0,"9":40.0},
{"t":"2009-12-16T13:35","6":34.3,"7":28.0,"8":31.5,"9":34.8},
{"t":"2009-12-16T14:10","6":32.0,"7":26.5,"8":30.0,"9":32.5},
{"t":"2009-12-16T15:05","6":29.5,"7":25.5,"8":28.0,"9":30.0},
{"t":"2009-12-16T16:00","6":26.0,"7":24.5,"8":25.0,"9":26.5},
{"t":"2009-12-16T16:55","6":23.3,"7":22.5,"8":23.0,"9":23.5},
{"t":"2009-12-16T18:10","6":20.3,"7":20.6,"8":20.3,"9":20.5},
{"t":"2009-12-16T20:20","6":18.8,"7":19.1,"8":18.8,"9":19.0},
{"t":"2009-12-16T23:20","6":18.0,"7":18.3,"8":17.9,"9":18.2},
{"t":"2009-12-17T02:00","6":17.6,"7":17.9,"8":17.5,"9":17.8},
{"t":"2009-12-17T05:00","6":17.3,"7":17.6,"8":17.2,"9":17.5},
{"t":"2009-12-17T07:00","6":17.1,"7":17.4,"8":16.8,"9":17.3},
{"t":"2009-12-17T07:35","6":19.8,"7":20.0,"8":22.0,"9":20.0},
{"t":"2009-12-17T08:05","6":27.0,"7":25.1,"8":30.8,"9":27.3},
{"t":"2009-12-17T09:00","6":30.8,"7":31.0,"8":33.0,"9":31.0},
{"t":"2009-12-17T10:25","6":34.0,"7":32.0,"8":34.9,"9":34.2},
{"t":"2009-12-17T11:20","6":31.3,"7":31.5,"8":32.0,"9":31.5},
{"t":"2009-12-17T12:30","6":30.8,"7":31.0,"8":30.5,"9":31.0},
{"t":"2009-12-17T13:40","6":29.3,"7":30.5,"8":29.5,"9":29.5},
{"t":"2009-12-17T14:50","6":28.3,"7":29.5,"8":28.5,"9":28.5},
{"t":"2009-12-17T16:00","6":26.3,"7":27.5,"8":26.0,"9":26.5},
{"t":"2009-12-17T17:10","6":24.3,"7":26.0,"8":24.5,"9":24.5},
{"t":"2009-12-17T18:25","6":22.3,"7":23.5,"8":22.5,"9":22.5},
{"t":"2009-12-17T19:55","6":20.5,"7":20.8,"8":20.5,"9":20.7},
{"t":"2009-12-17T22:15","6":18.8,"7":19.1,"8":18.8,"9":19.0},
{"t":"2009-12-18T01:55","6":17.5,"7":17.8,"8":17.4,"9":17.7},
{"t":"2009-12-18T04:50","6":16.6,"7":16.9,"8":16.5,"9":16.8},
{"t":"2009-12-18T06:55","6":16.3,"7":16.6,"8":16.2,"9":16.5},
{"t":"2009-12-18T08:40","6":17.6,"7":20.3,"8":17.8,"9":17.8},
{"t":"2009-12-18T10:30","6":19.3,"7":20.0,"8":19.5,"9":19.5},
{"t":"2009-12-18T12:10","6":20.3,"7":20.6,"8":20.4,"9":20.5},
{"t":"2009-12-18T14:00","6":20.8,"7":21.1,"8":20.9,"9":21.0},
{"t":"2009-12-18T16:05","6":21.4,"7":21.7,"8":21.5,"9":21.6}
]},
"transform": [{"fold": ["6", "7", "8", "9"], "as": ["series", "temp"]}],
"encoding": {
  "x": {"field": "t", "type": "temporal",
    "scale": {"domain": [{"year": 2009, "month": 11, "date": 13, "hours": 12}, {"year": 2009, "month": 12, "date": 19, "hours": 17}]},
    "axis": {"title": null, "grid": false, "format": "%d/%m/%y",
      "values": [{"year": 2009, "month": 11, "date": 14}, {"year": 2009, "month": 11, "date": 17}, {"year": 2009, "month": 11, "date": 20}, {"year": 2009, "month": 11, "date": 23}, {"year": 2009, "month": 11, "date": 26}, {"year": 2009, "month": 11, "date": 29}, {"year": 2009, "month": 12, "date": 2}, {"year": 2009, "month": 12, "date": 5}, {"year": 2009, "month": 12, "date": 8}, {"year": 2009, "month": 12, "date": 11}, {"year": 2009, "month": 12, "date": 14}, {"year": 2009, "month": 12, "date": 17}],
      "domainColor": "black", "tickColor": "black", "tickSize": -9, "labelPadding": 17.5,
      "labelFont": "DejaVu Sans", "labelFontSize": 15, "labelColor": "black", "labelFlush": false, "labelOverlap": false}},
  "y": {"field": "temp", "type": "quantitative",
    "scale": {"domain": [10, 60], "nice": false, "zero": false},
    "axis": {"title": "Temperature (C)", "grid": false, "values": [10, 20, 30, 40, 50, 60],
      "domainColor": "black", "tickColor": "black", "tickSize": -9, "labelPadding": 15,
      "labelFont": "DejaVu Sans", "labelFontSize": 15, "labelColor": "black",
      "titleFont": "DejaVu Sans", "titleFontSize": 19, "titleFontWeight": "normal", "titleColor": "black",
      "titleX": -42, "titleY": 135, "titleBaseline": "alphabetic", "titleAngle": -90, "titleAlign": "center"}},
  "color": {"field": "series", "type": "nominal",
    "scale": {"domain": ["6", "7", "8", "9"], "range": ["#0000ff", "#000000", "#00ffff", "#ff0000"]},
    "legend": {"orient": "none", "legendX": 49, "legendY": 165.5, "title": null, "padding": 0,
      "symbolType": "M-8,0H8M-0.95,0A0.95,0.95 0 1,1 0.95,0A0.95,0.95 0 1,1 -0.95,0",
      "symbolSize": 64, "symbolStrokeWidth": 1, "symbolFillColor": "transparent",
      "labelFont": "DejaVu Sans", "labelFontSize": 17, "labelColor": "black", "labelOffset": 27, "rowPadding": 6}}
},
"layer": [
  {"transform": [{"filter": "datum.series === '6'"}], "mark": {"type": "line", "strokeWidth": 1, "point": {"filled": false, "size": 49, "strokeWidth": 1}}},
  {"transform": [{"filter": "datum.series === '7'"}], "mark": {"type": "line", "strokeWidth": 1, "point": {"filled": false, "size": 49, "strokeWidth": 1}}},
  {"transform": [{"filter": "datum.series === '8'"}], "mark": {"type": "line", "strokeWidth": 1, "point": {"filled": false, "size": 49, "strokeWidth": 1}}},
  {"transform": [{"filter": "datum.series === '9'"}], "mark": {"type": "line", "strokeWidth": 1, "point": {"filled": false, "size": 49, "strokeWidth": 1}}}
]
}
